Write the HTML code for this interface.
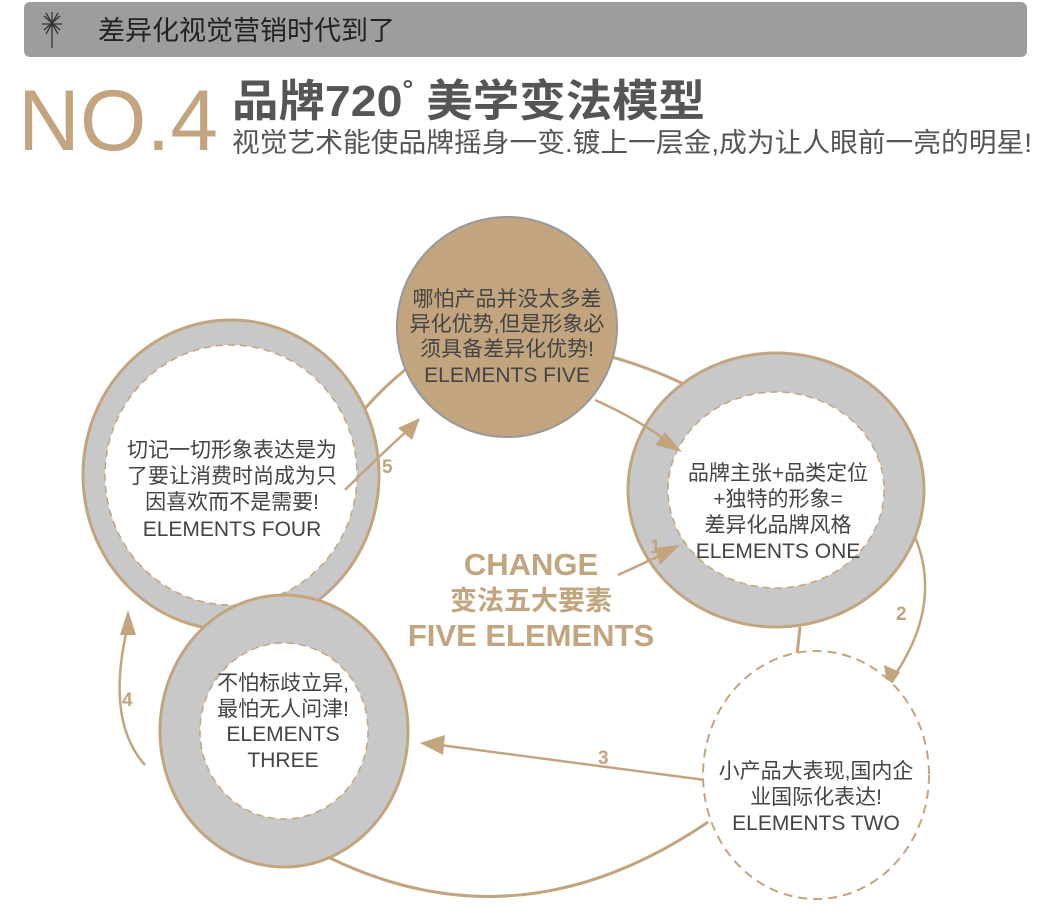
<!DOCTYPE html>
<html><head><meta charset="utf-8"><style>
body{margin:0;width:1050px;height:910px;background:#fff;overflow:hidden;font-family:"Liberation Sans","Noto Sans CJK SC",sans-serif}
</style></head><body>
<svg width="1050" height="910" xmlns="http://www.w3.org/2000/svg" font-family="Liberation Sans, Noto Sans CJK SC, sans-serif">
<rect x="24" y="2" width="1003" height="55" rx="6" fill="#9d9d9f"/>
<g stroke="#333" stroke-width="1.3">
<line x1="52" y1="12" x2="52" y2="48"/><line x1="44" y1="16" x2="60" y2="30"/><line x1="60" y1="16" x2="44" y2="30"/><line x1="42" y1="24" x2="62" y2="24"/><line x1="46" y1="13" x2="58" y2="34"/><line x1="58" y1="13" x2="46" y2="34"/>
</g>
<text x="98" y="40" font-size="27" fill="#222">差异化视觉营销时代到了</text>
<text x="18" y="150" font-size="86" fill="#c2a57e" textLength="200" lengthAdjust="spacingAndGlyphs" font-weight="300">NO.4</text>
<text x="232" y="116" font-size="44" font-weight="bold" fill="#555" textLength="473" lengthAdjust="spacingAndGlyphs">品牌720<tspan font-size="26" dy="-18">°</tspan><tspan dy="18"> 美学变法模型</tspan></text>
<text x="232" y="152" font-size="27" fill="#555" textLength="800" lengthAdjust="spacingAndGlyphs">视觉艺术能使品牌摇身一变.镀上一层金,成为让人眼前一亮的明星!</text>

<g fill="none" stroke="#c2a57e" stroke-width="3">
<path d="M355 420 Q380 390 405 370"/>
<path d="M605 355 Q660 370 705 395"/>
<path d="M330 858 Q520 950 708 822"/>
<path d="M800 627 L797 655"/>
<path d="M789 655 L806 657" stroke-width="2"/>
</g>
<g fill="none" stroke="#c2a57e" stroke-width="2.5">
<path d="M912 530 Q945 600 895 675"/>
<path d="M705 780 L440 745"/>
<path d="M145 765 Q105 720 128 625"/>
</g>
<g fill="#c2a57e">
<polygon points="888,690 884,665 900,672"/>
<polygon points="420,743 445,735 443,755"/>
<polygon points="128,610 120,635 136,635"/>
</g>

<ellipse cx="231" cy="475" rx="148" ry="155" fill="#c8c8c8" stroke="#c2a57e" stroke-width="3"/>
<ellipse cx="231" cy="475" rx="126" ry="130" fill="#fff" stroke="#c2a57e" stroke-width="1.5" stroke-dasharray="7 5"/>
<ellipse cx="284" cy="731" rx="124" ry="136" fill="#c8c8c8" stroke="#c2a57e" stroke-width="3"/>
<ellipse cx="284" cy="731" rx="84" ry="88" fill="#fff" stroke="#c2a57e" stroke-width="1.5" stroke-dasharray="7 5"/>
<ellipse cx="776" cy="490" rx="148" ry="137" fill="#c8c8c8" stroke="#c2a57e" stroke-width="3"/>
<ellipse cx="776" cy="490" rx="108" ry="98" fill="#fff" stroke="#c2a57e" stroke-width="1.5" stroke-dasharray="7 5"/>
<ellipse cx="816" cy="775" rx="113" ry="124" fill="#fff" stroke="#c2a57e" stroke-width="2" stroke-dasharray="9 6"/>
<ellipse cx="507" cy="327" rx="110" ry="110" fill="#c2a57e" stroke="#999" stroke-width="2"/>

<g fill="none" stroke="#c2a57e" stroke-width="2.5">
<path d="M595 400 Q640 420 672 445"/>
<path d="M345 490 Q375 460 410 428"/>
<path d="M618 575 L668 552"/>
</g>
<g fill="#c2a57e">
<polygon points="682,452 655,445 665,432"/>
<polygon points="420,418 412,440 398,428"/>
<polygon points="680,545 660,565 655,548"/>
</g>
<g font-size="19" font-weight="bold" fill="#c2a57e">
<text x="382" y="473">5</text><text x="650" y="553">1</text><text x="896" y="620">2</text><text x="598" y="764">3</text><text x="122" y="706">4</text>
</g>

<g font-size="21" fill="#444" text-anchor="middle">
<text x="507" y="306">哪怕产品并没太多差</text>
<text x="507" y="331">异化优势,但是形象必</text>
<text x="507" y="356">须具备差异化优势!</text>
<text x="507" y="382">ELEMENTS FIVE</text>
<text x="232" y="457">切记一切形象表达是为</text>
<text x="232" y="483">了要让消费时尚成为只</text>
<text x="232" y="509">因喜欢而不是需要!</text>
<text x="232" y="536">ELEMENTS FOUR</text>
<text x="283" y="690">不怕标歧立异,</text>
<text x="283" y="716">最怕无人问津!</text>
<text x="283" y="741">ELEMENTS</text>
<text x="283" y="767">THREE</text>
<text x="778" y="480">品牌主张+品类定位</text>
<text x="778" y="506">+独特的形象=</text>
<text x="778" y="532">差异化品牌风格</text>
<text x="778" y="558">ELEMENTS ONE</text>
<text x="816" y="778">小产品大表现,国内企</text>
<text x="816" y="804">业国际化表达!</text>
<text x="816" y="830">ELEMENTS TWO</text>
</g>
<g font-weight="bold" fill="#c2a57e" text-anchor="middle">
<text x="531" y="575" font-size="31">CHANGE</text>
<text x="531" y="610" font-size="27">变法五大要素</text>
<text x="531" y="646" font-size="31">FIVE ELEMENTS</text>
</g>
</svg>
</body></html>
